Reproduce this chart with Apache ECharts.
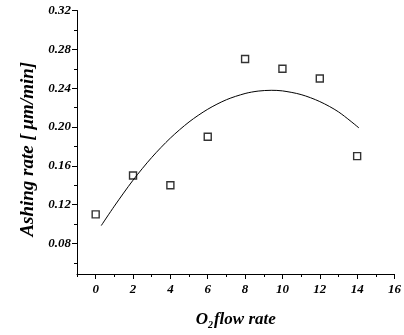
<!DOCTYPE html>
<html>
<head>
<meta charset="utf-8">
<script src="https://cdn.jsdelivr.net/npm/echarts@6/dist/echarts.min.js"></script>
<style>
html,body{margin:0;padding:0;background:#fff;}
#c{width:404px;height:335px;}
</style>
</head>
<body>
<div id="c"></div>
<script>
// Measured points (O2 flow rate vs ashing rate)
var flowRate = [0, 2, 4, 6, 8, 10, 12, 14];
var ashingRate = [0.11, 0.15, 0.14, 0.19, 0.27, 0.26, 0.25, 0.17];
// Fitted curve
var fitX = [0.3, 1, 2, 3, 4, 5, 6, 7, 8, 8.7, 9.4, 10, 11, 12, 13, 14.1];
var fitY = [0.0985, 0.1185, 0.1452, 0.1686, 0.1886, 0.2052, 0.2183, 0.2281, 0.2345, 0.2370, 0.2378, 0.2372, 0.2334, 0.2262, 0.2156, 0.1990];
// Axis ticks
var xMajor = [0, 2, 4, 6, 8, 10, 12, 14, 16];
var xMinor = [-1, 1, 3, 5, 7, 9, 11, 13, 15];
var yMajor = [0.08, 0.12, 0.16, 0.20, 0.24, 0.28, 0.32];
var yMinor = [0.06, 0.10, 0.14, 0.18, 0.22, 0.26, 0.30];

var FONT = "'Liberation Serif','Times New Roman',serif";
var chart = echarts.init(document.getElementById('c'), null, {renderer: 'canvas'});

function pair(xs, ys) { return xs.map(function (x, i) { return [x, ys[i]]; }); }

var option = {
  animation: false,
  backgroundColor: '#fff',
  grid: {left: 77, right: 7, top: 10.5, bottom: 56, containLabel: false},
  xAxis: [{
    type: 'value', min: -1, max: 16, position: 'bottom',
    axisLine: {show: true, onZero: false, lineStyle: {color: '#000', width: 1}},
    axisTick: {show: true, inside: false, length: 5, customValues: xMajor, lineStyle: {color: '#000'}},
    axisLabel: {show: true, customValues: xMajor, margin: 9, color: '#000',
      fontFamily: FONT, fontSize: 13, fontWeight: 'bold', fontStyle: 'italic'},
    splitLine: {show: false},
    name: '{a|O}{b|2}{a|flow rate}', nameLocation: 'middle', nameGap: 36,
    nameTextStyle: {rich: {
      a: {fontFamily: FONT, fontSize: 17, fontWeight: 'bold', fontStyle: 'italic', color: '#000'},
      b: {fontFamily: FONT, fontSize: 10, fontWeight: 'bold', fontStyle: 'italic', color: '#000', padding: [10, 1, 0, 0]}
    }}
  }, {
    type: 'value', min: -1, max: 16, position: 'bottom',
    axisLine: {show: false, onZero: false},
    axisTick: {show: true, inside: false, length: 3, customValues: xMinor, lineStyle: {color: '#000'}},
    axisLabel: {show: false},
    splitLine: {show: false}
  }],
  yAxis: [{
    type: 'value', min: 0.0486, max: 0.32, position: 'left',
    axisLine: {show: true, onZero: false, lineStyle: {color: '#000', width: 1}},
    axisTick: {show: true, inside: false, length: 5, customValues: yMajor, lineStyle: {color: '#000'}},
    axisLabel: {show: true, customValues: yMajor, margin: 6, color: '#000',
      fontFamily: FONT, fontSize: 13, fontWeight: 'bold', fontStyle: 'italic',
      formatter: function (v) { return v.toFixed(2); }},
    splitLine: {show: false},
    name: 'Ashing rate [ \u03bcm/min]', nameLocation: 'middle', nameGap: 28, nameRotate: 90,
    nameTextStyle: {fontFamily: FONT, fontSize: 19, fontWeight: 'bold', fontStyle: 'italic', color: '#000',
      padding: [0, 14, 0, 0]}
  }, {
    type: 'value', min: 0.0486, max: 0.32, position: 'left',
    axisLine: {show: false, onZero: false},
    axisTick: {show: true, inside: false, length: 3, customValues: yMinor, lineStyle: {color: '#000'}},
    axisLabel: {show: false},
    splitLine: {show: false}
  }],
  series: [{
    type: 'line', xAxisIndex: 0, yAxisIndex: 0,
    data: pair(fitX, fitY), smooth: 0.3, showSymbol: false, symbol: 'none',
    lineStyle: {color: '#000', width: 1}, silent: true
  }, {
    type: 'scatter', xAxisIndex: 0, yAxisIndex: 0,
    data: pair(flowRate, ashingRate), symbol: 'rect', symbolSize: 7,
    itemStyle: {color: '#fff', borderColor: '#000', borderWidth: 1.4}
  }]
};
chart.setOption(option);
</script>
</body>
</html>
